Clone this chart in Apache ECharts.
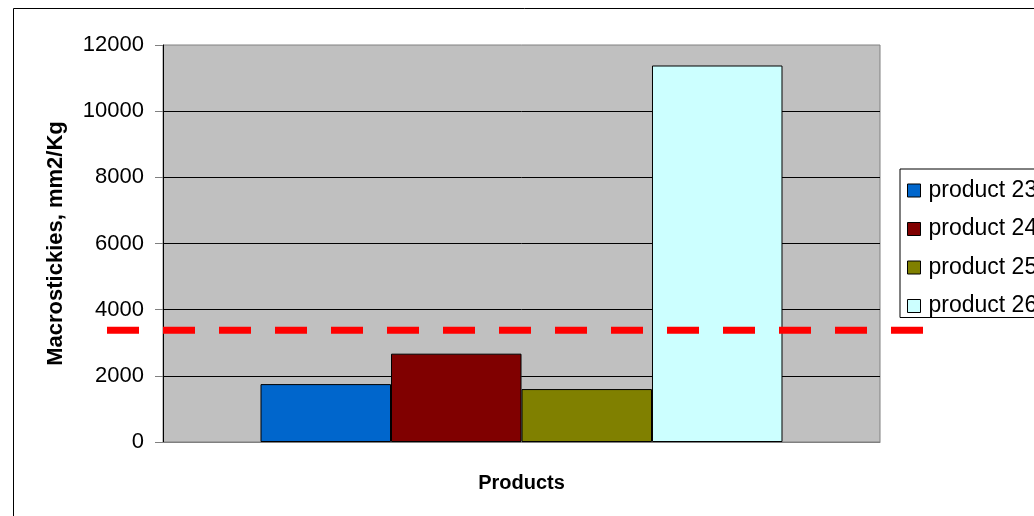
<!DOCTYPE html>
<html>
<head>
<meta charset="utf-8">
<script src="https://cdn.jsdelivr.net/npm/echarts@6/dist/echarts.min.js"></script>
<style>
  html, body { margin: 0; padding: 0; background: #ffffff; }
  #chart { width: 1034px; height: 516px; }
</style>
</head>
<body>
<div id="chart"></div>
<script>
// Macrostickies per product, mm2/Kg
const categories = [''];
const productNames = ['product 23', 'product 24', 'product 25', 'product 26'];
const productValues = [1750, 2670, 1600, 11380];
const productColors = ['#0066CC', '#800000', '#808000', '#CCFFFF'];
const limitValue = 3380;
const yTicks = { min: 0, max: 12000, interval: 2000 };

const FONT = '"Liberation Sans", Arial, sans-serif';

const barSeries = productNames.map((name, i) => ({
  name: name,
  type: 'bar',
  xAxisIndex: 0,
  yAxisIndex: 0,
  data: [productValues[i]],
  barGap: '0%',
  barCategoryGap: '27.2%',
  itemStyle: { color: productColors[i], borderColor: '#000000', borderWidth: 1 },
  z: 2
}));

const chart = echarts.init(document.getElementById('chart'), null, { renderer: 'canvas' });

chart.setOption({
  animation: false,
  backgroundColor: '#ffffff',
  textStyle: { fontFamily: FONT },
  graphic: [{
    type: 'rect',
    shape: { x: 13.5, y: 8.5, width: 1100, height: 600 },
    style: { fill: null, stroke: '#000000', lineWidth: 1 },
    z: -10
  }],
  grid: [
    {
      left: 163, right: 154, top: 45, bottom: 74,
      show: true, backgroundColor: '#C0C0C0', borderColor: '#808080', borderWidth: 1
    },
    { left: 107, right: 111, top: 45, bottom: 74 }
  ],
  legend: {
    orient: 'vertical',
    left: 900,
    top: 169,
    padding: [10, 5, 0, 7],
    itemGap: 15.5,
    itemWidth: 13,
    itemHeight: 13,
    backgroundColor: '#ffffff',
    borderColor: '#000000',
    borderWidth: 1,
    borderRadius: 0,
    icon: 'rect',
    data: productNames,
    itemStyle: { borderColor: '#000000', borderWidth: 1 },
    textStyle: { fontSize: 23, color: '#000000', fontFamily: FONT, padding: [0, 0, 0, 3] }
  },
  xAxis: [
    {
      type: 'category',
      gridIndex: 0,
      data: categories,
      name: 'Products',
      nameLocation: 'middle',
      nameGap: 31,
      nameTextStyle: { fontSize: 20, fontWeight: 'bold', color: '#000000', fontFamily: FONT },
      axisLine: { lineStyle: { color: '#808080', width: 1 } },
      axisTick: { show: false },
      axisLabel: { show: false }
    },
    {
      type: 'value', gridIndex: 1, min: 0, max: 1, show: false
    }
  ],
  yAxis: [
    {
      type: 'value',
      gridIndex: 0,
      min: yTicks.min,
      max: yTicks.max,
      interval: yTicks.interval,
      name: 'Macrostickies, mm2/Kg',
      nameLocation: 'middle',
      nameGap: 96,
      nameTextStyle: { fontSize: 22, fontWeight: 'bold', color: '#000000', fontFamily: FONT },
      axisLine: { show: true, lineStyle: { color: '#000000', width: 1 } },
      axisTick: { show: true, inside: false, length: 8, lineStyle: { color: '#808080' } },
      axisLabel: {
        fontSize: 22, color: '#000000', margin: 19, fontFamily: FONT,
        formatter: (v) => String(v)
      },
      splitLine: { show: true, showMinLine: false, showMaxLine: false, lineStyle: { color: '#000000', width: 1 } }
    },
    {
      type: 'value', gridIndex: 1, min: yTicks.min, max: yTicks.max, show: false
    }
  ],
  series: barSeries.concat([{
    name: 'limit',
    type: 'line',
    xAxisIndex: 1,
    yAxisIndex: 1,
    data: [[0, limitValue], [1, limitValue]],
    symbol: 'none',
    silent: true,
    lineStyle: { color: '#FF0000', width: 7, type: [32, 24], cap: 'butt' },
    z: 10
  }])
});
</script>
</body>
</html>
